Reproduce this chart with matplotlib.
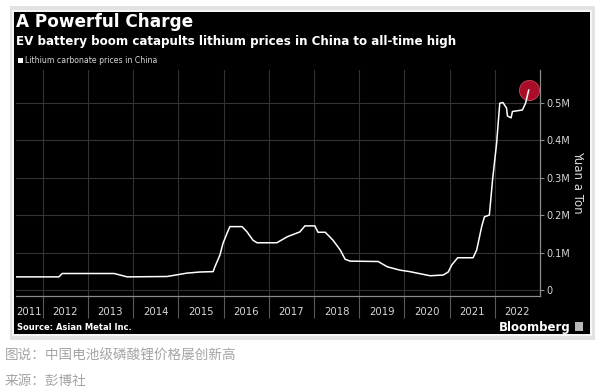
import matplotlib

matplotlib.use("Agg")
import matplotlib.pyplot as plt
from matplotlib.patches import Rectangle


W, H = 600, 391

# lithium carbonate price, yuan per ton
DATES = [
    2011.41, 2012.36, 2012.43, 2013.58, 2013.87, 2014.75, 2015.19, 2015.48,
    2015.77, 2015.81, 2015.92, 2015.99, 2016.08, 2016.14, 2016.41, 2016.52,
    2016.65, 2016.74, 2017.18, 2017.41, 2017.69, 2017.80, 2018.02, 2018.09,
    2018.25, 2018.42, 2018.58, 2018.69, 2018.80, 2019.42, 2019.62, 2019.90,
    2020.12, 2020.57, 2020.86, 2020.97, 2021.05, 2021.18, 2021.52, 2021.60,
    2021.71, 2021.77, 2021.88, 2021.95, 2022.04, 2022.11, 2022.18, 2022.26,
    2022.28, 2022.36, 2022.39, 2022.50, 2022.61, 2022.68, 2022.75,
]
PRICES = [
    35000, 35000, 44000, 44000, 35000, 36000, 45000, 48000,
    49000, 62000, 93000, 125000, 152000, 169000, 169000, 155000,
    133000, 126000, 126000, 142000, 155000, 171000, 171000, 154000,
    154000, 133000, 107000, 82000, 77000, 76000, 62000, 53000,
    49000, 38000, 40000, 48000, 67000, 86000, 86000, 107000,
    169000, 195000, 200000, 293000, 391000, 498000, 500000, 485000,
    464000, 459000, 476000, 478000, 480000, 498000, 533000,
]

YEAR_EDGES = list(range(2012, 2023))
YEAR_LABELS = [str(y) for y in range(2011, 2023)]
YEAR_LABEL_POS = [2011.7] + [y + 0.5 for y in range(2012, 2023)]
Y_TICKS = [0, 100000, 200000, 300000, 400000, 500000]
Y_TICK_LABELS = ["0", "0.1M", "0.2M", "0.3M", "0.4M", "0.5M"]

GRID = "#333333"
AXIS = "#8c8c8c"
TEXT = "#d8d8d8"


def fx(x):
    return x / W


def fy(y):
    return 1 - y / H


def frame(fig):
    # shadow / border of the screenshot, then the black panel
    fig.add_artist(Rectangle((fx(10), fy(340)), 585 / W, 334 / H, transform=fig.transFigure,
                             facecolor="#e2e2e2", edgecolor="none", zorder=0))
    fig.add_artist(Rectangle((fx(12), fy(336)), 580 / W, 326 / H, transform=fig.transFigure,
                             facecolor="#f6f6f6", edgecolor="none", zorder=0))
    fig.add_artist(Rectangle((fx(14), fy(334)), 576 / W, 322 / H, transform=fig.transFigure,
                             facecolor="black", edgecolor="none", zorder=0))


def headings(fig):
    fig.text(fx(16), fy(22), "A Powerful Charge", color="white", fontsize=12.2,
             fontweight="bold", va="center", ha="left")
    fig.text(fx(16), fy(41), "EV battery boom catapults lithium prices in China to all-time high",
             color="white", fontsize=8.6, fontweight="bold", va="center", ha="left")
    fig.add_artist(Rectangle((fx(18), fy(63)), 5 / W, 5 / H, transform=fig.transFigure,
                             facecolor="white", edgecolor="none"))
    fig.text(fx(25), fy(60.5), "Lithium carbonate prices in China", color=TEXT, fontsize=5.6,
             va="center", ha="left")
    fig.text(fx(578), fy(182), "Yuan a Ton", color=TEXT, fontsize=8.5, rotation=270,
             va="center", ha="center")
    fig.text(fx(17), fy(327), "Source: Asian Metal Inc.", color="white", fontsize=6,
             fontweight="bold", va="center", ha="left")
    fig.text(fx(571), fy(327), "Bloomberg", color="white", fontsize=8.5,
             fontweight="bold", va="center", ha="right")
    fig.add_artist(Rectangle((fx(575), fy(331)), 8 / W, 9 / H, transform=fig.transFigure,
                             facecolor="#b8b8b8", edgecolor="none"))

    cjk = ["Noto Sans CJK SC", "DejaVu Sans"]
    fig.text(fx(5), fy(356), "图说：中国电池级磷酸锂价格屡创新高", color="#a4a4a4",
             fontsize=9.8, family=cjk, va="center", ha="left")
    fig.text(fx(5), fy(381), "来源：彭博社", color="#a4a4a4", fontsize=9.8, family=cjk,
             va="center", ha="left")


def plot_chart(fig):
    ax = fig.add_axes([fx(16), fy(296), 524 / W, 226 / H])
    ax.set_facecolor("black")

    ax.plot(DATES, PRICES, color="white", linewidth=1.1, zorder=3, solid_joinstyle="round")
    ax.plot([DATES[-1]], [PRICES[-1]], "o", markersize=14.5, color="#c8102e", alpha=0.85,
            markeredgecolor="#e0506a", markeredgewidth=0.6, zorder=2)

    ax.set_xlim(2011.41, 2023.0)
    ax.set_ylim(-16000, 586700)

    for side in ("top", "left"):
        ax.spines[side].set_visible(False)
    for side in ("bottom", "right"):
        ax.spines[side].set_color(AXIS)
        ax.spines[side].set_linewidth(0.9)

    ax.yaxis.tick_right()
    ax.set_yticks(Y_TICKS)
    ax.set_yticklabels(Y_TICK_LABELS)
    ax.tick_params(axis="y", length=3, width=0.8, color=AXIS, labelcolor=TEXT,
                   labelsize=7, pad=1.5)

    ax.set_xticks(YEAR_EDGES)
    ax.set_xticklabels([""] * len(YEAR_EDGES))
    ax.set_xticks(YEAR_LABEL_POS, minor=True)
    ax.set_xticklabels(YEAR_LABELS, minor=True)
    ax.tick_params(axis="x", which="major", length=16, width=0.8, color="#5a5a5a")
    ax.tick_params(axis="x", which="minor", length=0, pad=8, labelsize=7.3, labelcolor=TEXT)

    ax.grid(which="major", color=GRID, linewidth=0.8)
    ax.set_axisbelow(True)
    return ax


def main():
    fig = plt.figure(figsize=(W / 100, H / 100), dpi=100, facecolor="white")
    frame(fig)
    plot_chart(fig)
    headings(fig)
    fig.savefig("out.png", dpi=100, facecolor="white")
    plt.close(fig)


if __name__ == "__main__":
    main()
